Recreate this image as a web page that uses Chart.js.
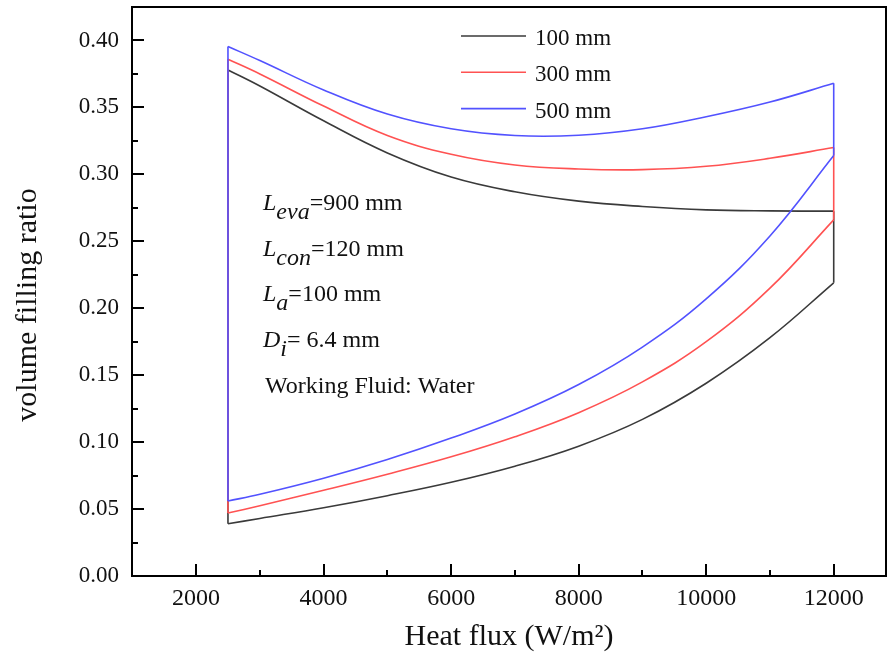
<!DOCTYPE html>
<html>
<head>
<meta charset="utf-8">
<title>Volume filling ratio vs heat flux</title>
<script src="https://cdn.jsdelivr.net/npm/chart.js@4/dist/chart.umd.min.js"></script>
<style>
  html, body { margin: 0; padding: 0; background: #ffffff; }
  #wrap { width: 888px; height: 666px; }
</style>
</head>
<body>
<div id="wrap"><canvas id="chart" width="888" height="666"></canvas></div>
<script>
// Heat flux (W/m²) sample points shared by every boundary curve
const heatFlux = [2500, 3000, 4000, 5000, 6000, 7000, 8000, 9000, 10000, 11000, 12000];

// Upper and lower limits of the volume filling ratio for each adiabatic length
const upper100 = [0.378, 0.366, 0.340, 0.316, 0.298, 0.287, 0.280, 0.276, 0.2735, 0.2727, 0.2725];
const lower100 = [0.039, 0.043, 0.051, 0.060, 0.070, 0.082, 0.097, 0.117, 0.144, 0.178, 0.219];
const upper300 = [0.386, 0.375, 0.351, 0.329, 0.315, 0.307, 0.304, 0.3035, 0.306, 0.312, 0.320];
const lower300 = [0.047, 0.0525, 0.064, 0.076, 0.089, 0.104, 0.122, 0.145, 0.175, 0.215, 0.266];
const upper500 = [0.3955, 0.385, 0.363, 0.345, 0.334, 0.3290, 0.3292, 0.334, 0.343, 0.354, 0.368];
const lower500 = [0.056, 0.061, 0.073, 0.087, 0.103, 0.121, 0.143, 0.171, 0.207, 0.254, 0.314];

const seriesNames = ['100 mm', '300 mm', '500 mm'];
const seriesColors = ['#3a3a3a', '#ff5252', '#5252ff'];

// Axis ticks
const xTicks = [2000, 4000, 6000, 8000, 10000, 12000];
const xMinorTicks = [3000, 5000, 7000, 9000, 11000];
const yTicks = [0.00, 0.05, 0.10, 0.15, 0.20, 0.25, 0.30, 0.35, 0.40];
const yMinorTicks = [0.025, 0.075, 0.125, 0.175, 0.225, 0.275, 0.325, 0.375];

const SERIF = '"Liberation Serif", "Times New Roman", serif';

function pts(xs, ys) { return xs.map((x, i) => ({ x: x, y: ys[i] })); }

// Each region is closed by the two vertical edges at the first and last heat flux
function edges(up, lo) {
  const n = heatFlux.length - 1;
  return [
    { x: heatFlux[0], y: up[0] }, { x: heatFlux[0], y: lo[0] },
    { x: heatFlux[0], y: null },
    { x: heatFlux[n], y: up[n] }, { x: heatFlux[n], y: lo[n] }
  ];
}

const curveSets = [
  [upper100, lower100],
  [upper300, lower300],
  [upper500, lower500]
];

const datasets = [];
curveSets.forEach(([up, lo], k) => {
  const common = {
    borderColor: seriesColors[k],
    borderWidth: 1.6,
    pointRadius: 0,
    fill: false,
    order: 2 - k
  };
  datasets.push(Object.assign({ label: seriesNames[k], data: pts(heatFlux, up), tension: 0.4 }, common));
  datasets.push(Object.assign({ label: seriesNames[k], data: pts(heatFlux, lo), tension: 0.4 }, common));
  datasets.push(Object.assign({ label: seriesNames[k], data: edges(up, lo), tension: 0, spanGaps: false }, common));
});

// Frame, inward ticks, legend, parameter notes and y title
const decorations = {
  id: 'decorations',
  afterDraw(chart) {
    const ctx = chart.ctx;
    const a = chart.chartArea;
    const xs = chart.scales.x, ys = chart.scales.y;
    ctx.save();
    ctx.strokeStyle = '#000';
    ctx.lineWidth = 2;
    ctx.strokeRect(a.left, a.top, a.right - a.left, a.bottom - a.top);

    ctx.beginPath();
    xTicks.forEach(v => { const p = Math.round(xs.getPixelForValue(v)); ctx.moveTo(p, a.bottom); ctx.lineTo(p, a.bottom - 12); });
    xMinorTicks.forEach(v => { const p = Math.round(xs.getPixelForValue(v)); ctx.moveTo(p, a.bottom); ctx.lineTo(p, a.bottom - 6); });
    yTicks.forEach(v => { const p = Math.round(ys.getPixelForValue(v)); ctx.moveTo(a.left, p); ctx.lineTo(a.left + 12, p); });
    yMinorTicks.forEach(v => { const p = Math.round(ys.getPixelForValue(v)); ctx.moveTo(a.left, p); ctx.lineTo(a.left + 6, p); });
    ctx.stroke();

    // legend
    ctx.font = '23px ' + SERIF;
    ctx.textBaseline = 'middle';
    ctx.fillStyle = '#111';
    seriesNames.forEach((name, k) => {
      const y = 36 + k * 36.3;
      ctx.strokeStyle = seriesColors[k];
      ctx.lineWidth = 1.6;
      ctx.beginPath();
      ctx.moveTo(461, y); ctx.lineTo(526, y);
      ctx.stroke();
      ctx.fillText(name, 535, y + 3);
    });

    // parameter notes
    ctx.textBaseline = 'alphabetic';
    const notes = [
      ['L', 'eva', '=900 mm'],
      ['L', 'con', '=120 mm'],
      ['L', 'a', '=100 mm'],
      ['D', 'i', '= 6.4 mm']
    ];
    const x0 = 263;
    notes.forEach((n, i) => {
      const base = 210 + i * 45.7;
      let x = x0;
      ctx.font = 'italic 24px ' + SERIF;
      ctx.fillText(n[0], x, base);
      x += ctx.measureText(n[0]).width;
      ctx.fillText(n[1], x, base + 9);
      x += ctx.measureText(n[1]).width;
      ctx.font = '24px ' + SERIF;
      ctx.fillText(n[2], x, base);
    });
    ctx.font = '24px ' + SERIF;
    ctx.fillText('Working Fluid: Water', 265, 210 + 4 * 45.7);

    // y axis title
    ctx.translate(28, 305);
    ctx.rotate(-Math.PI / 2);
    ctx.textAlign = 'center';
    ctx.textBaseline = 'middle';
    ctx.font = '30px ' + SERIF;
    ctx.fillText('volume filling ratio', 0, 0);
    ctx.restore();
  }
};

new Chart(document.getElementById('chart'), {
  type: 'line',
  data: { datasets: datasets },
  options: {
    responsive: false,
    animation: false,
    devicePixelRatio: 1,
    layout: { padding: { top: 7, right: 2, left: 0, bottom: 0 } },
    plugins: { legend: { display: false }, tooltip: { enabled: false } },
    scales: {
      x: {
        type: 'linear',
        min: 995,
        max: 12820,
        grid: { display: false, drawTicks: false },
        border: { display: false },
        afterBuildTicks: s => { s.ticks = xTicks.map(v => ({ value: v })); },
        afterFit: s => { s.height = 90; s.paddingLeft = 0; s.paddingRight = 0; },
        ticks: {
          color: '#111',
          font: { family: SERIF, size: 24 },
          padding: 8,
          maxRotation: 0,
          callback: v => String(v)
        },
        title: {
          display: true,
          text: 'Heat flux (W/m²)',
          color: '#111',
          font: { family: SERIF, size: 30 },
          padding: { top: 0, bottom: 11 }
        }
      },
      y: {
        type: 'linear',
        min: 0,
        max: 0.425,
        grid: { display: false, drawTicks: false },
        border: { display: false },
        afterBuildTicks: s => { s.ticks = yTicks.map(v => ({ value: v })); },
        afterFit: s => { s.width = 132; s.paddingTop = 0; s.paddingBottom = 0; },
        ticks: {
          color: '#111',
          font: { family: SERIF, size: 23 },
          padding: 13,
          callback: v => Number(v).toFixed(2)
        }
      }
    }
  },
  plugins: [decorations]
});
</script>
</body>
</html>
